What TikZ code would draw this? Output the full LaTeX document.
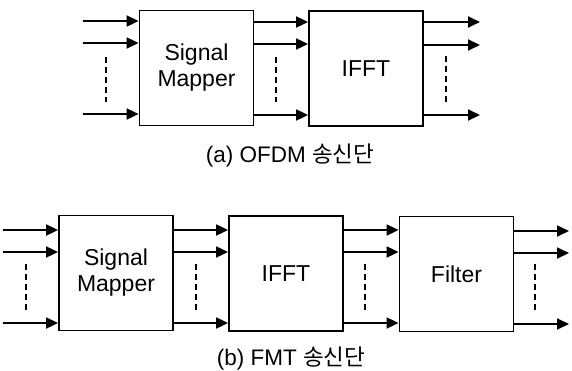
\documentclass[tikz,border=0pt]{standalone}
\usepackage{fontspec}
\setmainfont{Liberation Sans}
\newfontfamily\krfont{Noto Sans CJK KR}
\usetikzlibrary{arrows.meta}
\begin{document}
\begin{tikzpicture}[x=1pt,y=-1pt,
  blk/.style={draw,line width=1.8pt,minimum width=114pt,minimum height=115pt,inner sep=0pt,font=\fontsize{23}{26}\selectfont,align=center},
  arr/.style={line width=1.8pt,-{Triangle[length=12pt,width=11pt]}},
  dsh/.style={line width=1.2pt,dash pattern=on 6pt off 4pt},
  captext/.style={font=\fontsize{22.5}{26}\selectfont}]
\useasboundingbox (0,0) rectangle (572,370);
% ---- top (a)
\node[blk] (sma) at (196.5,68) {Signal\\Mapper};
\node[blk] (iffta) at (366,68.5) {IFFT};
\coordinate (ia1) at (83,21);
\coordinate (ia2) at (83,43);
\coordinate (ia3) at (83,114);
\coordinate (oa1) at (480,22);
\coordinate (oa2) at (480,45);
\coordinate (oa3) at (480,115);
\foreach \c in {ia1,ia2,ia3} \draw[arr] (\c) -- (sma.west |- \c);
\foreach \y in {22,44,115} \draw[arr] (sma.east |- 0,\y) -- (iffta.west |- 0,\y);
\foreach \c in {oa1,oa2,oa3} \draw[arr] (iffta.east |- \c) -- (\c);
\coordinate (da1t) at (106,57); \coordinate (da1b) at (106,102);
\coordinate (da2t) at (276,57); \coordinate (da2b) at (276,102);
\coordinate (da3t) at (446,56); \coordinate (da3b) at (446,104);
\draw[dsh] (da1t) -- (da1b);
\draw[dsh] (da2t) -- (da2b);
\draw[dsh] (da3t) -- (da3b);
\node[captext] (capa) at (290,156) {(a) OFDM {\krfont 송신단}};
% ---- bottom (b)
\node[blk] (smb) at (116,273) {Signal\\Mapper};
\node[blk] (ifftb) at (286,273.5) {IFFT};
\node[blk] (filt) at (456.5,274) {Filter};
\coordinate (ib1) at (3,230);
\coordinate (ib2) at (3,252);
\coordinate (ib3) at (3,323);
\coordinate (ob1) at (569,231);
\coordinate (ob2) at (569,253);
\coordinate (ob3) at (569,324);
\foreach \c in {ib1,ib2,ib3} \draw[arr] (\c) -- (smb.west |- \c);
\foreach \y in {230,252,323} \draw[arr] (smb.east |- 0,\y) -- (ifftb.west |- 0,\y);
\foreach \y in {230,252,323} \draw[arr] (ifftb.east |- 0,\y) -- (filt.west |- 0,\y);
\foreach \c in {ob1,ob2,ob3} \draw[arr] (filt.east |- \c) -- (\c);
\coordinate (db1t) at (26,264); \coordinate (db1b) at (26,310);
\coordinate (db2t) at (196,264); \coordinate (db2b) at (196,310);
\coordinate (db3t) at (365,264); \coordinate (db3b) at (365,310);
\coordinate (db4t) at (535,264); \coordinate (db4b) at (535,310);
\draw[dsh] (db1t) -- (db1b);
\draw[dsh] (db2t) -- (db2b);
\draw[dsh] (db3t) -- (db3b);
\draw[dsh] (db4t) -- (db4b);
\node[captext] (capb) at (291,359) {(b) FMT {\krfont 송신단}};
\end{tikzpicture}
\end{document}
